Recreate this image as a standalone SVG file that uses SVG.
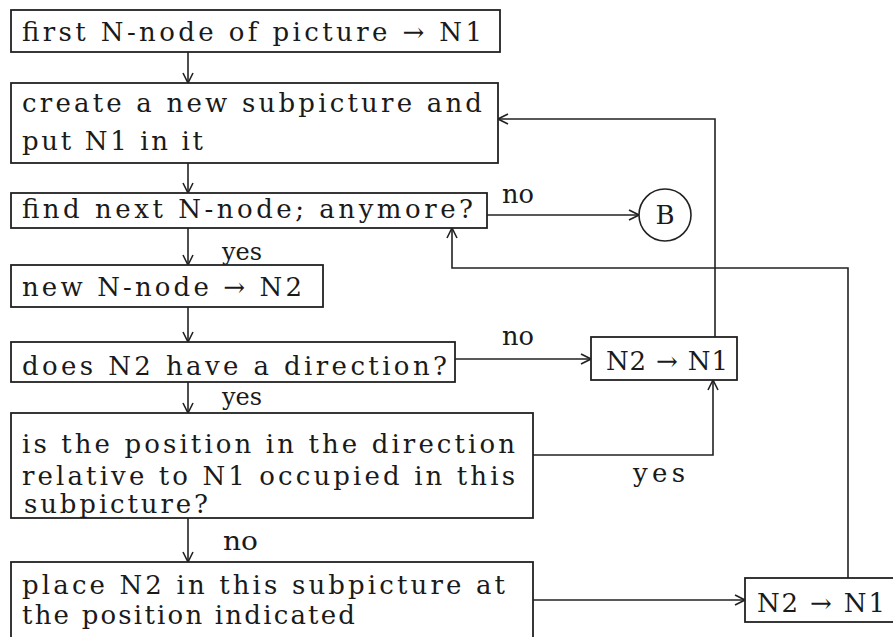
<svg xmlns="http://www.w3.org/2000/svg" width="893" height="637" viewBox="0 0 893 637">
<style>
.box{fill:#fff;stroke:#222;stroke-width:1.8}
.t{font-family:"DejaVu Serif","Liberation Serif",serif;font-size:26px;fill:#1a1a1a}
.l{font-size:24px}
.c{fill:none;stroke:#222;stroke-width:1.6}
</style>
<defs>
<marker id="ah" viewBox="0 0 12 12" markerWidth="12" markerHeight="12" refX="11" refY="6" orient="auto" markerUnits="userSpaceOnUse">
<path d="M1,1 L11,6 L1,11" fill="none" stroke="#222" stroke-width="1.6"/>
</marker>
</defs>
<rect width="893" height="637" fill="#fff"/>
<g id="connectors">
<path class="c" d="M188,52 V83" marker-end="url(#ah)"/>
<path class="c" d="M188,163 V193" marker-end="url(#ah)"/>
<path class="c" d="M188,228 V265" marker-end="url(#ah)"/>
<path class="c" d="M188,307 V342" marker-end="url(#ah)"/>
<path class="c" d="M188,382 V413" marker-end="url(#ah)"/>
<path class="c" d="M188,518 V562" marker-end="url(#ah)"/>
<path class="c" d="M487,215 H639" marker-end="url(#ah)"/>
<path class="c" d="M455,359 H591" marker-end="url(#ah)"/>
<path class="c" d="M533,455 H713 V380" marker-end="url(#ah)"/>
<path class="c" d="M715,337 V119 H498" marker-end="url(#ah)"/>
<path class="c" d="M533,600 H745" marker-end="url(#ah)"/>
<path class="c" d="M848,578 V268 H452 V228" marker-end="url(#ah)"/>
<text class="t" x="502" y="203" textLength="32" lengthAdjust="spacingAndGlyphs">no</text>
<text class="t l" x="222" y="260" textLength="40" lengthAdjust="spacingAndGlyphs">yes</text>
<text class="t" x="502" y="345" textLength="32" lengthAdjust="spacingAndGlyphs">no</text>
<text class="t l" x="222" y="405" textLength="40" lengthAdjust="spacingAndGlyphs">yes</text>
<text class="t" x="633" y="482" textLength="52" lengthAdjust="spacing">yes</text>
<text class="t" x="223" y="550" textLength="35" lengthAdjust="spacingAndGlyphs">no</text>
</g>
<g id="n1">
<rect class="box" x="11" y="10" width="489" height="42"/>
<text class="t" x="22" y="41" textLength="460" lengthAdjust="spacing">first N-node of picture → N1</text>
</g>
<g id="n2">
<rect class="box" x="11" y="83" width="487" height="80"/>
<text class="t" x="22" y="112" textLength="460" lengthAdjust="spacing">create a new subpicture and</text>
<text class="t" x="22" y="150" textLength="181" lengthAdjust="spacing">put N1 in it</text>
</g>
<g id="n3">
<rect class="box" x="11" y="193" width="476" height="35"/>
<text class="t" x="22" y="218" textLength="451" lengthAdjust="spacing">find next N-node; anymore?</text>
</g>
<g id="n4">
<rect class="box" x="11" y="265" width="312" height="42"/>
<text class="t" x="22" y="296" textLength="280" lengthAdjust="spacing">new N-node → N2</text>
</g>
<g id="n5">
<rect class="box" x="11" y="342" width="444" height="40"/>
<text class="t" x="22" y="375" textLength="425" lengthAdjust="spacing">does N2 have a direction?</text>
</g>
<g id="n6">
<rect class="box" x="11" y="413" width="522" height="105"/>
<text class="t" x="22" y="453" textLength="493" lengthAdjust="spacing">is the position in the direction</text>
<text class="t" x="22" y="485" textLength="493" lengthAdjust="spacing">relative to N1 occupied in this</text>
<text class="t" x="24" y="513" textLength="184" lengthAdjust="spacing">subpicture?</text>
</g>
<g id="n7">
<rect class="box" x="11" y="562" width="522" height="80"/>
<text class="t" x="22" y="594" textLength="483" lengthAdjust="spacing">place N2 in this subpicture at</text>
<text class="t" x="22" y="624" textLength="333" lengthAdjust="spacing">the position indicated</text>
</g>
<g id="b">
<circle cx="665" cy="215" r="26" fill="#fff" stroke="#222" stroke-width="1.6"/>
<text class="t" x="665" y="224" text-anchor="middle">B</text>
</g>
<g id="n8">
<rect class="box" x="591" y="337" width="146" height="43"/>
<text class="t" x="606" y="370" textLength="122" lengthAdjust="spacing">N2 → N1</text>
</g>
<g id="n9">
<rect class="box" x="745" y="578" width="160" height="44"/>
<text class="t" x="757" y="612" textLength="128" lengthAdjust="spacing">N2 → N1</text>
</g>
</svg>
